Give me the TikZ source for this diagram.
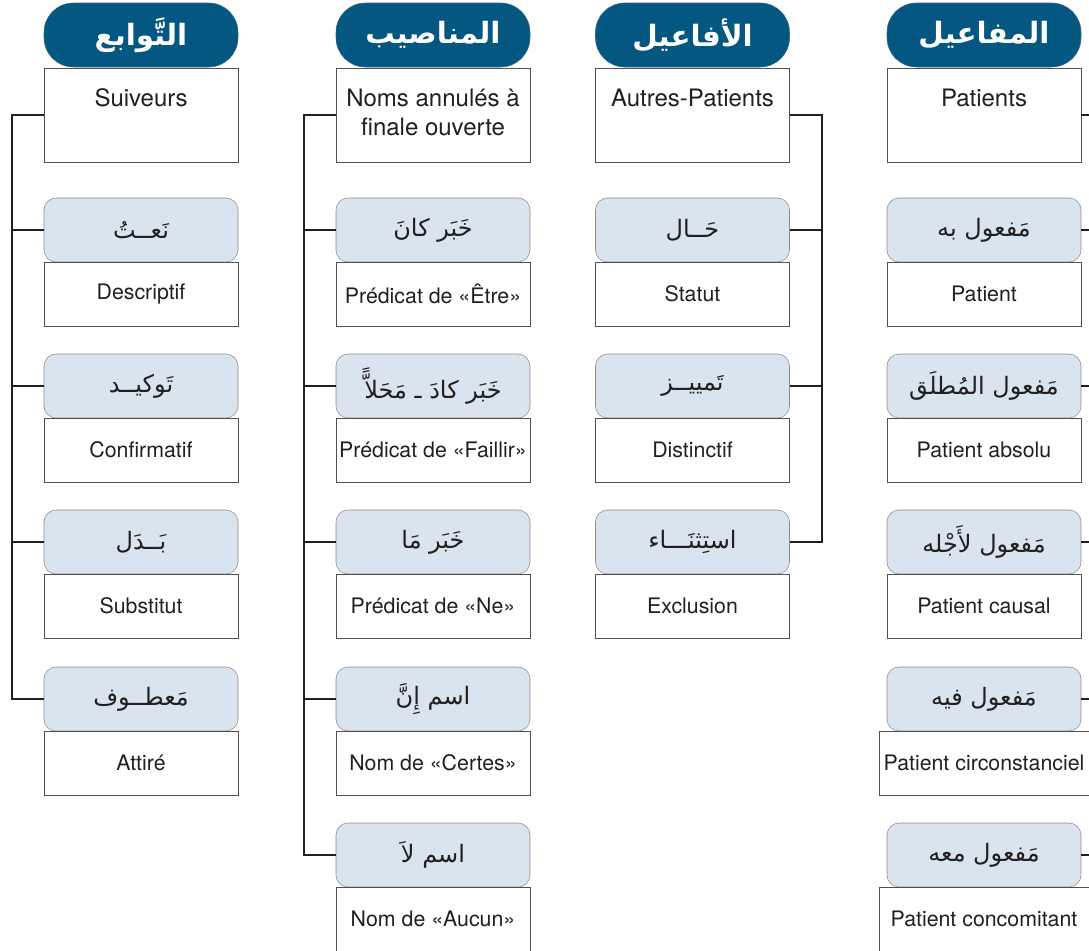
\documentclass[tikz,border=0pt]{standalone}
\usepackage{fontspec}
\setmainfont{TeX Gyre Heros}
\newfontfamily\arabicfont[Script=Arabic]{DejaVu Sans}
\TeXXeTstate=1
\newcommand\AR[1]{\beginR #1\endR}

\definecolor{hdrblue}{RGB}{4,87,128}
\definecolor{catfill}{RGB}{217,228,238}
\definecolor{catgray}{RGB}{140,140,140}
\definecolor{boxgray}{RGB}{80,80,80}
\definecolor{ink}{RGB}{35,31,32}

\tikzset{
  hdr/.style={draw=hdrblue!60!gray, fill=hdrblue, rounded corners=22pt,
    minimum width=145.5pt, minimum height=48pt, inner sep=0pt, text=white,
    font=\arabicfont\bfseries\fontsize{22}{26}\selectfont},
  headbox/.style={draw=boxgray, fill=white, minimum width=145.5pt,
    minimum height=70.5pt, inner sep=0pt},
  headtext/.style={align=center, text=ink, inner sep=0pt,
    font=\fontsize{18}{21.75}\selectfont},
  cat/.style={draw=catgray, fill=catfill, rounded corners=9pt,
    minimum width=145.5pt, minimum height=48pt, inner sep=0pt, text=ink,
    font=\arabicfont\fontsize{18}{22}\selectfont},
  gloss/.style={draw=boxgray, fill=white, minimum width=145.5pt,
    minimum height=48pt, inner sep=0pt, text=ink,
    font=\fontsize{16}{19}\selectfont},
  wide/.style={minimum width=157.5pt},
  link/.style={draw=ink, line width=0.8pt},
}

\begin{document}
\begin{tikzpicture}[x=0.75pt, y=-0.75pt]
\useasboundingbox (0,0) rectangle (1089,950);

% ---------------- column 1 : التوابع ----------------
\node[hdr] (t1) at (141,35) {\AR{التَّوابع}};
\node[headbox] (h1) at (141,115) {};
\node[headtext] (h1t) at (141,98) {Suiveurs};
\node[cat] (a1) at (141,230) {\AR{نَعــتُ}};
\node[gloss] (g1a) at (141,294) {Descriptif};
\node[cat] (b1) at (141,386) {\AR{تَوكيــد}};
\node[gloss] (g1b) at (141,450) {Confirmatif};
\node[cat] (c1) at (141,542) {\AR{بَــدَل}};
\node[gloss] (g1c) at (141,606) {Substitut};
\node[cat] (d1) at (141,699) {\AR{مَعطــوف}};
\node[gloss] (g1d) at (141,763) {Attiré};

\coordinate (bus1) at (12,0);
\draw[link] (h1.west) -| (bus1 |- d1.west) -- (d1.west);
\foreach \n in {a1,b1,c1}
  \draw[link] (\n.west) -- (\n.west -| bus1);

% ---------------- column 2 : المناصيب ----------------
\node[hdr] (t2) at (433,35) {\AR{المناصيب}};
\node[headbox] (h2) at (433,115) {};
\node[headtext] (h2t) at (433,112.5) {Noms annulés à\\finale ouverte};
\node[cat] (a2) at (433,230) {\AR{خَبَر كانَ}};
\node[gloss] (g2a) at (433,294) {Prédicat de «Être»};
\node[cat] (b2) at (433,386) {\AR{خَبَر كادَ ـ مَحَلاًّ}};
\node[gloss] (g2b) at (433,450) {Prédicat de «Faillir»};
\node[cat] (c2) at (433,542) {\AR{خَبَر مَا}};
\node[gloss] (g2c) at (433,606) {Prédicat de «Ne»};
\node[cat] (d2) at (433,699) {\AR{اسم إِنَّ}};
\node[gloss] (g2d) at (433,763) {Nom de «Certes»};
\node[cat] (e2) at (433,855) {\AR{اسم لاَ}};
\node[gloss] (g2e) at (433,919) {Nom de «Aucun»};

\coordinate (bus2) at (304,0);
\draw[link] (h2.west) -| (bus2 |- e2.west) -- (e2.west);
\foreach \n in {a2,b2,c2,d2}
  \draw[link] (\n.west) -- (\n.west -| bus2);

% ---------------- column 3 : الأفاعيل ----------------
\node[hdr] (t3) at (692.5,35) {\AR{الأفاعيل}};
\node[headbox] (h3) at (692.5,115) {};
\node[headtext] (h3t) at (692.5,98) {Autres-Patients};
\node[cat] (a3) at (692.5,230) {\AR{حَــال}};
\node[gloss] (g3a) at (692.5,294) {Statut};
\node[cat] (b3) at (692.5,386) {\AR{تَمييــز}};
\node[gloss] (g3b) at (692.5,450) {Distinctif};
\node[cat] (c3) at (692.5,542) {\AR{استِثنَـــاء}};
\node[gloss] (g3c) at (692.5,606) {Exclusion};

\coordinate (bus3) at (822,0);
\draw[link] (h3.east) -| (bus3 |- c3.east) -- (c3.east);
\foreach \n in {a3,b3}
  \draw[link] (\n.east) -- (\n.east -| bus3);

% ---------------- column 4 : المفاعيل ----------------
\node[hdr] (t4) at (984,35) {\AR{المفاعيل}};
\node[headbox] (h4) at (984,115) {};
\node[headtext] (h4t) at (984,98) {Patients};
\node[cat] (a4) at (984,230) {\AR{مَفعول به}};
\node[gloss] (g4a) at (984,294) {Patient};
\node[cat] (b4) at (984,386) {\AR{مَفعول المُطلَق}};
\node[gloss] (g4b) at (984,450) {Patient absolu};
\node[cat] (c4) at (984,542) {\AR{مَفعول لأَجْله}};
\node[gloss] (g4c) at (984,606) {Patient causal};
\node[cat] (d4) at (984,699) {\AR{مَفعول فيه}};
\node[gloss, wide] (g4d) at (984,763) {Patient circonstanciel};
\node[cat] (e4) at (984,855) {\AR{مَفعول معه}};
\node[gloss, wide] (g4e) at (984,919) {Patient concomitant};

\coordinate (bus4) at (1089,0);
\foreach \n in {h4,a4,b4,c4,d4,e4}
  \draw[link] (\n.east) -- (\n.east -| bus4);

\end{tikzpicture}
\end{document}
